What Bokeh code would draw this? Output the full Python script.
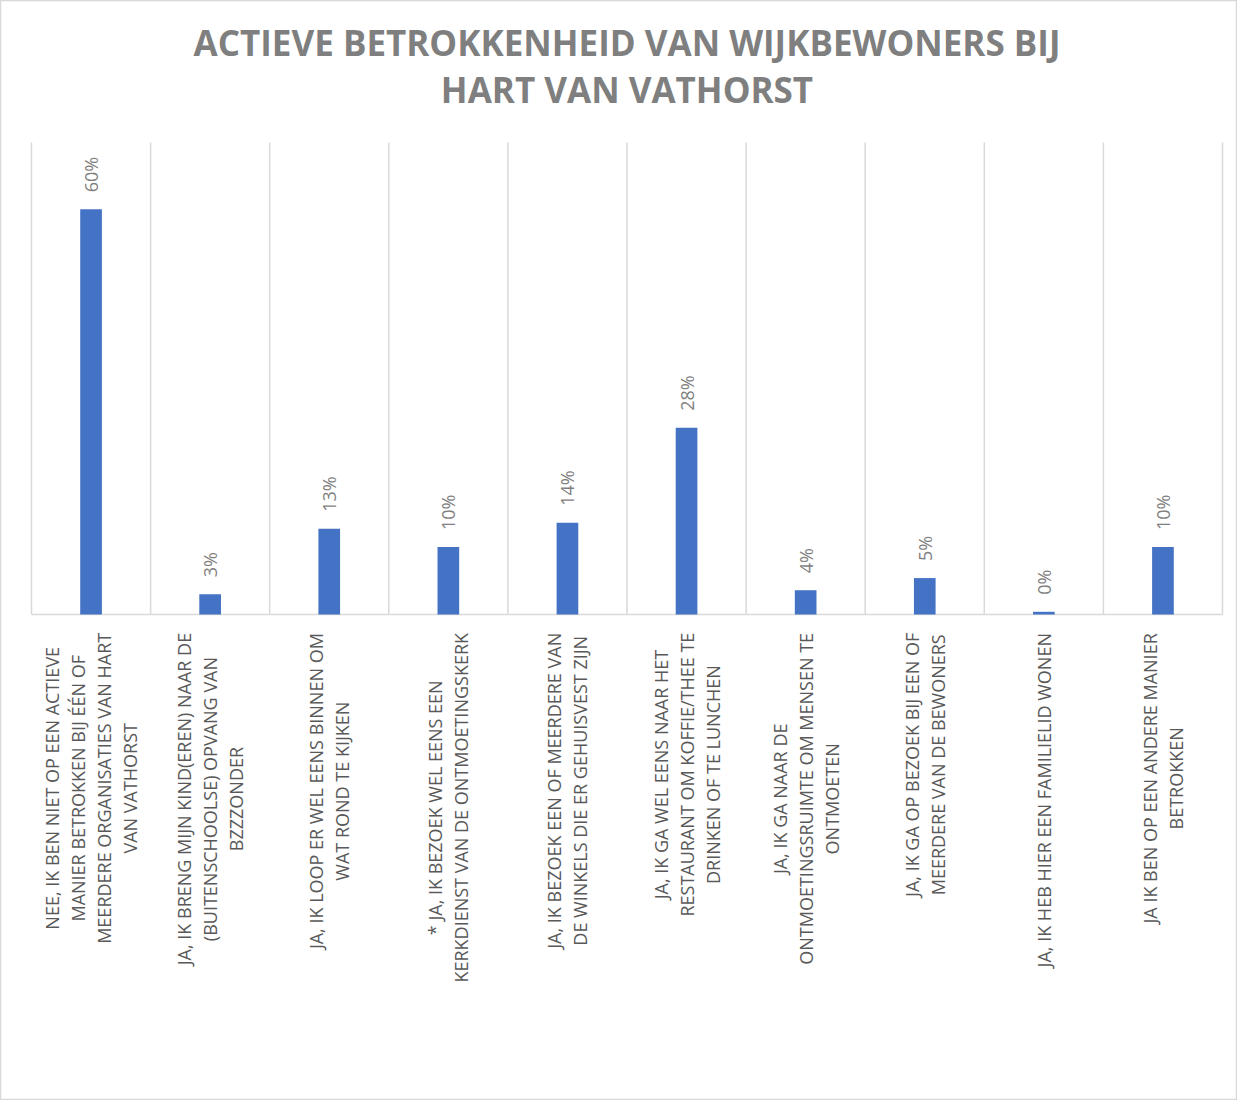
import math
from bokeh.plotting import figure
from bokeh.models import Range1d, ColumnDataSource
from bokeh.core.properties import value
from bokeh.embed import file_html
from bokeh.resources import INLINE

# ---------------- data ----------------
title_lines = ["ACTIEVE BETROKKENHEID VAN WIJKBEWONERS BIJ", "HART VAN VATHORST"]

categories = [
    "NEE, IK BEN NIET OP EEN ACTIEVE\nMANIER BETROKKEN BIJ ÉÉN OF\nMEERDERE ORGANISATIES VAN HART\nVAN VATHORST",
    "JA, IK BRENG MIJN KIND(EREN) NAAR DE\n(BUITENSCHOOLSE) OPVANG VAN\nBZZZONDER",
    "JA, IK LOOP ER WEL EENS BINNEN OM\nWAT ROND TE KIJKEN",
    "* JA, IK BEZOEK WEL EENS EEN\nKERKDIENST VAN DE ONTMOETINGSKERK",
    "JA, IK BEZOEK EEN OF MEERDERE VAN\nDE WINKELS DIE ER GEHUISVEST ZIJN",
    "JA, IK GA WEL EENS NAAR HET\nRESTAURANT OM KOFFIE/THEE TE\nDRINKEN OF TE LUNCHEN",
    "JA, IK GA NAAR DE\nONTMOETINGSRUIMTE OM MENSEN TE\nONTMOETEN",
    "JA, IK GA OP BEZOEK BIJ EEN OF\nMEERDERE VAN DE BEWONERS",
    "JA, IK HEB HIER EEN FAMILIELID WONEN",
    "JA IK BEN OP EEN ANDERE MANIER\nBETROKKEN",
]
values = [60.1, 3.0, 12.7, 10.0, 13.6, 27.7, 3.6, 5.4, 0.4, 10.0]
y_max = 70

value_labels = [f"{v:.0f}%" for v in values]

# ---------------- layout constants ----------------
W, H = 1237, 1100
L, R = 31, 1222          # plot area left/right (px)
T, B = 142, 614          # plot area top / baseline (px)
n = len(categories)
ux = (R - L) / n
uy = (B - T) / y_max

FONT = "Open Sans"
BAR_COLOR = "#4472C4"
GRID_COLOR = "#D9D9D9"
LABEL_COLOR = "#595959"
DL_COLOR = "#7F7F7F"
TITLE_COLOR = "#7F7F7F"
CAT_SIZE = 18
LINE_PITCH = 26

# approximate Open Sans advance widths (em) for centering rotated multi-line labels
_W = {" ": .26, ",": .25, "(": .275, ")": .275, "/": .367, "*": .544,
      "A": .633, "B": .648, "C": .631, "D": .729, "E": .556, "É": .556, "F": .516,
      "G": .728, "H": .738, "I": .279, "J": .267, "K": .614, "L": .528, "M": .903,
      "N": .765, "O": .781, "P": .611, "R": .621, "S": .539, "T": .546, "U": .736,
      "V": .596, "W": .922, "Z": .561}


def text_width(s, size):
    return sum(_W.get(c, .6) for c in s) * size


p = figure(width=W, height=H, output_backend="svg", toolbar_location=None,
           x_axis_location=None, y_axis_location=None, min_border=0,
           x_range=Range1d(-0.5 - L / ux, n - 0.5 + (W - R) / ux),
           y_range=Range1d(-(H - B) / uy, y_max + T / uy))
p.grid.visible = False
p.outline_line_color = GRID_COLOR
p.outline_line_width = 1.5
p.background_fill_color = "white"
p.border_fill_color = "white"

idx = list(range(n))

# category separators and baseline
bounds = [i - 0.5 for i in range(n + 1)]
p.segment(x0=bounds, y0=[0] * len(bounds), x1=bounds, y1=[y_max] * len(bounds),
          line_color=GRID_COLOR, line_width=1.5)
p.segment(x0=[-0.5], y0=[0], x1=[n - 0.5], y1=[0], line_color=GRID_COLOR, line_width=1.5)

# bars
src = ColumnDataSource(dict(x=idx, top=values, lab=value_labels))
p.vbar(x="x", top="top", width=0.182, source=src, fill_color=BAR_COLOR, line_color=None)

# data labels
p.text(x="x", y="top", text="lab", source=src, angle=math.pi / 2,
       text_align="left", text_baseline="middle", y_offset=-17,
       text_font=value(FONT), text_font_size=value("18px"), text_color=DL_COLOR)

# category labels (rotated, multi-line, centred lines, block starting under the axis)
xs, ys, txt, xo, yo = [], [], [], [], []
for i, cat in enumerate(categories):
    lines = cat.split("\n")
    maxw = max(text_width(s, CAT_SIZE) for s in lines)
    m = len(lines)
    for j, s in enumerate(lines):
        xs.append(i)
        ys.append(0)
        txt.append(s)
        xo.append((j - (m - 1) / 2) * LINE_PITCH)
        yo.append(18 + maxw / 2)
p.text(x=xs, y=ys, text=txt, x_offset=xo, y_offset=yo, angle=math.pi / 2,
       text_align="center", text_baseline="middle",
       text_font=value(FONT), text_font_size=value(f"{CAT_SIZE}px"), text_color=LABEL_COLOR)

# title
p.text(x=[(n - 1) / 2] * 2, y=[y_max] * 2, text=title_lines,
       y_offset=[-100, -53], text_align="center", text_baseline="middle",
       text_font=value(FONT), text_font_style="bold", text_font_size=value("35px"),
       text_color=TITLE_COLOR)

open("out.html", "w").write(file_html(p, INLINE))
